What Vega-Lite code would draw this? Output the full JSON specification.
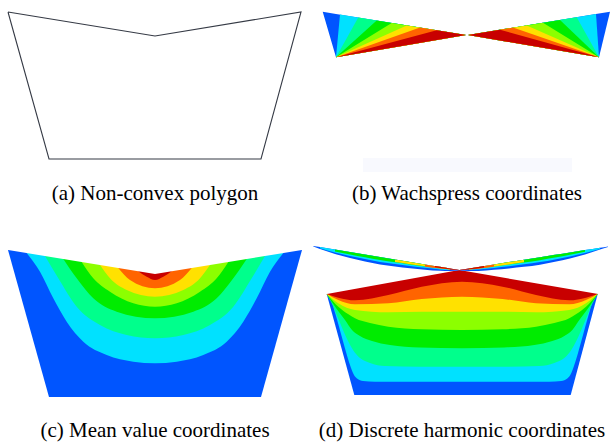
{
  "$schema": "https://vega.github.io/schema/vega-lite/v6.json",
  "width": 610,
  "height": 444,
  "autosize": {"type": "fit", "contains": "padding"},
  "padding": 0,
  "background": "white",
  "config": {"view": {"stroke": null}},
  "datasets": {
    "flat": [
      {"s": "bL0", "k": "blue", "x": 322.7, "y": 11.7, "y2": 11.7},
      {"s": "bL0", "k": "blue", "x": 336, "y": 57.3, "y2": 13.9},
      {"s": "bL0", "k": "blue", "x": 466, "y": 35, "y2": 35},
      {"s": "bL1", "k": "cyan", "x": 336, "y": 57.3, "y2": 57.3},
      {"s": "bL1", "k": "cyan", "x": 340, "y": 56.6, "y2": 14.5},
      {"s": "bL1", "k": "cyan", "x": 466, "y": 35, "y2": 35},
      {"s": "bL2", "k": "springgreen", "x": 336, "y": 57.3, "y2": 57.3},
      {"s": "bL2", "k": "springgreen", "x": 358.3, "y": 53.5, "y2": 17.5},
      {"s": "bL2", "k": "springgreen", "x": 466, "y": 35, "y2": 35},
      {"s": "bL3", "k": "green", "x": 336, "y": 57.3, "y2": 57.3},
      {"s": "bL3", "k": "green", "x": 376.7, "y": 50.3, "y2": 20.5},
      {"s": "bL3", "k": "green", "x": 466, "y": 35, "y2": 35},
      {"s": "bL4", "k": "yellowgreen", "x": 336, "y": 57.3, "y2": 57.3},
      {"s": "bL4", "k": "yellowgreen", "x": 391.7, "y": 47.7, "y2": 22.9},
      {"s": "bL4", "k": "yellowgreen", "x": 466, "y": 35, "y2": 35},
      {"s": "bL5", "k": "yellow", "x": 336, "y": 57.3, "y2": 57.3},
      {"s": "bL5", "k": "yellow", "x": 406.7, "y": 45.2, "y2": 25.4},
      {"s": "bL5", "k": "yellow", "x": 466, "y": 35, "y2": 35},
      {"s": "bL6", "k": "orange", "x": 336, "y": 57.3, "y2": 57.3},
      {"s": "bL6", "k": "orange", "x": 420, "y": 42.9, "y2": 27.5},
      {"s": "bL6", "k": "orange", "x": 466, "y": 35, "y2": 35},
      {"s": "bL7", "k": "red", "x": 336, "y": 57.3, "y2": 57.3},
      {"s": "bL7", "k": "red", "x": 436.7, "y": 40.0, "y2": 30.2},
      {"s": "bL7", "k": "red", "x": 466, "y": 35, "y2": 35},
      {"s": "bR0", "k": "blue", "x": 468, "y": 35, "y2": 35},
      {"s": "bR0", "k": "blue", "x": 599, "y": 57.3, "y2": 13.5},
      {"s": "bR0", "k": "blue", "x": 610, "y": 11.7, "y2": 11.7},
      {"s": "bR1", "k": "cyan", "x": 468, "y": 35, "y2": 35},
      {"s": "bR1", "k": "cyan", "x": 596, "y": 56.8, "y2": 14.0},
      {"s": "bR1", "k": "cyan", "x": 599, "y": 57.3, "y2": 57.3},
      {"s": "bR2", "k": "springgreen", "x": 468, "y": 35, "y2": 35},
      {"s": "bR2", "k": "springgreen", "x": 576.7, "y": 53.5, "y2": 17.2},
      {"s": "bR2", "k": "springgreen", "x": 599, "y": 57.3, "y2": 57.3},
      {"s": "bR3", "k": "green", "x": 468, "y": 35, "y2": 35},
      {"s": "bR3", "k": "green", "x": 560, "y": 50.7, "y2": 19.9},
      {"s": "bR3", "k": "green", "x": 599, "y": 57.3, "y2": 57.3},
      {"s": "bR4", "k": "yellowgreen", "x": 468, "y": 35, "y2": 35},
      {"s": "bR4", "k": "yellowgreen", "x": 543, "y": 47.8, "y2": 22.7},
      {"s": "bR4", "k": "yellowgreen", "x": 599, "y": 57.3, "y2": 57.3},
      {"s": "bR5", "k": "yellow", "x": 468, "y": 35, "y2": 35},
      {"s": "bR5", "k": "yellow", "x": 526.7, "y": 45.0, "y2": 25.4},
      {"s": "bR5", "k": "yellow", "x": 599, "y": 57.3, "y2": 57.3},
      {"s": "bR6", "k": "orange", "x": 468, "y": 35, "y2": 35},
      {"s": "bR6", "k": "orange", "x": 513, "y": 42.7, "y2": 27.6},
      {"s": "bR6", "k": "orange", "x": 599, "y": 57.3, "y2": 57.3},
      {"s": "bR7", "k": "red", "x": 468, "y": 35, "y2": 35},
      {"s": "bR7", "k": "red", "x": 500, "y": 40.5, "y2": 29.8},
      {"s": "bR7", "k": "red", "x": 599, "y": 57.3, "y2": 57.3},
      {"s": "bF", "k": "faint", "x": 363, "y": 158, "y2": 172},
      {"s": "bF", "k": "faint", "x": 572, "y": 158, "y2": 172},
      {"s": "c0", "k": "blue", "x": 8, "y": 250, "y2": 244},
      {"s": "c0", "k": "blue", "x": 49, "y": 397, "y2": 244},
      {"s": "c0", "k": "blue", "x": 261, "y": 397, "y2": 244},
      {"s": "c0", "k": "blue", "x": 302, "y": 250, "y2": 244},
      {"s": "d0", "k": "blue", "x": 326.7, "y": 294, "y2": 266},
      {"s": "d0", "k": "blue", "x": 354.3, "y": 395, "y2": 266},
      {"s": "d0", "k": "blue", "x": 570.7, "y": 395, "y2": 266},
      {"s": "d0", "k": "blue", "x": 597.7, "y": 294, "y2": 266}
    ],
    "curves": [
      {"s": "c1", "k": "cyan", "x": 26.7, "y": 253.1, "y2": 244},
      {"s": "c1", "k": "cyan", "x": 40, "y": 271.7, "y2": 244},
      {"s": "c1", "k": "cyan", "x": 53.3, "y": 298.3, "y2": 244},
      {"s": "c1", "k": "cyan", "x": 66.7, "y": 321.7, "y2": 244},
      {"s": "c1", "k": "cyan", "x": 83.3, "y": 341.7, "y2": 244},
      {"s": "c1", "k": "cyan", "x": 106.7, "y": 355, "y2": 244},
      {"s": "c1", "k": "cyan", "x": 133.3, "y": 361.7, "y2": 244},
      {"s": "c1", "k": "cyan", "x": 155, "y": 363.3, "y2": 244},
      {"s": "c1", "k": "cyan", "x": 176.7, "y": 361.7, "y2": 244},
      {"s": "c1", "k": "cyan", "x": 203.3, "y": 355, "y2": 244},
      {"s": "c1", "k": "cyan", "x": 226.7, "y": 341.7, "y2": 244},
      {"s": "c1", "k": "cyan", "x": 243.3, "y": 321.7, "y2": 244},
      {"s": "c1", "k": "cyan", "x": 256.7, "y": 298.3, "y2": 244},
      {"s": "c1", "k": "cyan", "x": 270, "y": 271.7, "y2": 244},
      {"s": "c1", "k": "cyan", "x": 283.3, "y": 253.1, "y2": 244},
      {"s": "c2", "k": "springgreen", "x": 45, "y": 256, "y2": 244},
      {"s": "c2", "k": "springgreen", "x": 58.3, "y": 278.3, "y2": 244},
      {"s": "c2", "k": "springgreen", "x": 76.7, "y": 306.7, "y2": 244},
      {"s": "c2", "k": "springgreen", "x": 100, "y": 325, "y2": 244},
      {"s": "c2", "k": "springgreen", "x": 126.7, "y": 335, "y2": 244},
      {"s": "c2", "k": "springgreen", "x": 155, "y": 338.3, "y2": 244},
      {"s": "c2", "k": "springgreen", "x": 183.3, "y": 335, "y2": 244},
      {"s": "c2", "k": "springgreen", "x": 210, "y": 325, "y2": 244},
      {"s": "c2", "k": "springgreen", "x": 233.3, "y": 306.7, "y2": 244},
      {"s": "c2", "k": "springgreen", "x": 251.7, "y": 278.3, "y2": 244},
      {"s": "c2", "k": "springgreen", "x": 265, "y": 256, "y2": 244},
      {"s": "c3", "k": "green", "x": 63.3, "y": 259, "y2": 244},
      {"s": "c3", "k": "green", "x": 76.7, "y": 278.3, "y2": 244},
      {"s": "c3", "k": "green", "x": 93.3, "y": 298.3, "y2": 244},
      {"s": "c3", "k": "green", "x": 116.7, "y": 311.7, "y2": 244},
      {"s": "c3", "k": "green", "x": 155, "y": 318.3, "y2": 244},
      {"s": "c3", "k": "green", "x": 193.3, "y": 311.7, "y2": 244},
      {"s": "c3", "k": "green", "x": 216.7, "y": 298.3, "y2": 244},
      {"s": "c3", "k": "green", "x": 233.3, "y": 278.3, "y2": 244},
      {"s": "c3", "k": "green", "x": 246.7, "y": 259, "y2": 244},
      {"s": "c4", "k": "yellowgreen", "x": 81.7, "y": 262, "y2": 244},
      {"s": "c4", "k": "yellowgreen", "x": 93.3, "y": 278.3, "y2": 244},
      {"s": "c4", "k": "yellowgreen", "x": 110, "y": 291.7, "y2": 244},
      {"s": "c4", "k": "yellowgreen", "x": 133.3, "y": 303.3, "y2": 244},
      {"s": "c4", "k": "yellowgreen", "x": 155, "y": 306.7, "y2": 244},
      {"s": "c4", "k": "yellowgreen", "x": 176.7, "y": 303.3, "y2": 244},
      {"s": "c4", "k": "yellowgreen", "x": 200, "y": 291.7, "y2": 244},
      {"s": "c4", "k": "yellowgreen", "x": 216.7, "y": 278.3, "y2": 244},
      {"s": "c4", "k": "yellowgreen", "x": 228.3, "y": 262, "y2": 244},
      {"s": "c5", "k": "yellow", "x": 100, "y": 265, "y2": 244},
      {"s": "c5", "k": "yellow", "x": 110, "y": 278.3, "y2": 244},
      {"s": "c5", "k": "yellow", "x": 126.7, "y": 290, "y2": 244},
      {"s": "c5", "k": "yellow", "x": 155, "y": 296.7, "y2": 244},
      {"s": "c5", "k": "yellow", "x": 183.3, "y": 290, "y2": 244},
      {"s": "c5", "k": "yellow", "x": 200, "y": 278.3, "y2": 244},
      {"s": "c5", "k": "yellow", "x": 210, "y": 265, "y2": 244},
      {"s": "c6", "k": "orange", "x": 118.3, "y": 268, "y2": 244},
      {"s": "c6", "k": "orange", "x": 130, "y": 280, "y2": 244},
      {"s": "c6", "k": "orange", "x": 155, "y": 288.3, "y2": 244},
      {"s": "c6", "k": "orange", "x": 180, "y": 280, "y2": 244},
      {"s": "c6", "k": "orange", "x": 191.7, "y": 268, "y2": 244},
      {"s": "c7", "k": "red", "x": 138.3, "y": 271.3, "y2": 244},
      {"s": "c7", "k": "red", "x": 146.7, "y": 276.7, "y2": 244},
      {"s": "c7", "k": "red", "x": 155, "y": 280, "y2": 244},
      {"s": "c7", "k": "red", "x": 163.3, "y": 276.7, "y2": 244},
      {"s": "c7", "k": "red", "x": 171.7, "y": 271.3, "y2": 244},
      {"s": "d1", "k": "cyan", "x": 326.7, "y": 294, "y2": 266},
      {"s": "d1", "k": "cyan", "x": 331, "y": 300, "y2": 266},
      {"s": "d1", "k": "cyan", "x": 336, "y": 316, "y2": 266},
      {"s": "d1", "k": "cyan", "x": 341, "y": 334, "y2": 266},
      {"s": "d1", "k": "cyan", "x": 346, "y": 352, "y2": 266},
      {"s": "d1", "k": "cyan", "x": 350, "y": 365, "y2": 266},
      {"s": "d1", "k": "cyan", "x": 353, "y": 373, "y2": 266},
      {"s": "d1", "k": "cyan", "x": 357, "y": 378.5, "y2": 266},
      {"s": "d1", "k": "cyan", "x": 363, "y": 381, "y2": 266},
      {"s": "d1", "k": "cyan", "x": 375, "y": 381.7, "y2": 266},
      {"s": "d1", "k": "cyan", "x": 549.3, "y": 381.7, "y2": 266},
      {"s": "d1", "k": "cyan", "x": 561.3, "y": 381, "y2": 266},
      {"s": "d1", "k": "cyan", "x": 567.3, "y": 378.5, "y2": 266},
      {"s": "d1", "k": "cyan", "x": 571.3, "y": 373, "y2": 266},
      {"s": "d1", "k": "cyan", "x": 574.3, "y": 365, "y2": 266},
      {"s": "d1", "k": "cyan", "x": 578.3, "y": 352, "y2": 266},
      {"s": "d1", "k": "cyan", "x": 583.3, "y": 334, "y2": 266},
      {"s": "d1", "k": "cyan", "x": 588.3, "y": 316, "y2": 266},
      {"s": "d1", "k": "cyan", "x": 593.3, "y": 300, "y2": 266},
      {"s": "d1", "k": "cyan", "x": 597.6, "y": 294, "y2": 266},
      {"s": "d2", "k": "springgreen", "x": 326.7, "y": 294, "y2": 266},
      {"s": "d2", "k": "springgreen", "x": 333, "y": 306, "y2": 266},
      {"s": "d2", "k": "springgreen", "x": 338, "y": 318, "y2": 266},
      {"s": "d2", "k": "springgreen", "x": 343, "y": 330, "y2": 266},
      {"s": "d2", "k": "springgreen", "x": 348, "y": 341, "y2": 266},
      {"s": "d2", "k": "springgreen", "x": 353, "y": 350, "y2": 266},
      {"s": "d2", "k": "springgreen", "x": 360, "y": 358, "y2": 266},
      {"s": "d2", "k": "springgreen", "x": 370, "y": 363, "y2": 266},
      {"s": "d2", "k": "springgreen", "x": 385, "y": 366, "y2": 266},
      {"s": "d2", "k": "springgreen", "x": 420, "y": 366.7, "y2": 266},
      {"s": "d2", "k": "springgreen", "x": 504.3, "y": 366.7, "y2": 266},
      {"s": "d2", "k": "springgreen", "x": 539.3, "y": 366, "y2": 266},
      {"s": "d2", "k": "springgreen", "x": 554.3, "y": 363, "y2": 266},
      {"s": "d2", "k": "springgreen", "x": 564.3, "y": 358, "y2": 266},
      {"s": "d2", "k": "springgreen", "x": 571.3, "y": 350, "y2": 266},
      {"s": "d2", "k": "springgreen", "x": 576.3, "y": 341, "y2": 266},
      {"s": "d2", "k": "springgreen", "x": 581.3, "y": 330, "y2": 266},
      {"s": "d2", "k": "springgreen", "x": 586.3, "y": 318, "y2": 266},
      {"s": "d2", "k": "springgreen", "x": 591.3, "y": 306, "y2": 266},
      {"s": "d2", "k": "springgreen", "x": 597.6, "y": 294, "y2": 266},
      {"s": "d3", "k": "green", "x": 326.7, "y": 294, "y2": 266},
      {"s": "d3", "k": "green", "x": 336.7, "y": 309, "y2": 266},
      {"s": "d3", "k": "green", "x": 345, "y": 320, "y2": 266},
      {"s": "d3", "k": "green", "x": 352, "y": 330, "y2": 266},
      {"s": "d3", "k": "green", "x": 360, "y": 336, "y2": 266},
      {"s": "d3", "k": "green", "x": 372, "y": 341, "y2": 266},
      {"s": "d3", "k": "green", "x": 390, "y": 345, "y2": 266},
      {"s": "d3", "k": "green", "x": 420, "y": 347.5, "y2": 266},
      {"s": "d3", "k": "green", "x": 462, "y": 348.3, "y2": 266},
      {"s": "d3", "k": "green", "x": 504.3, "y": 347.5, "y2": 266},
      {"s": "d3", "k": "green", "x": 534.3, "y": 345, "y2": 266},
      {"s": "d3", "k": "green", "x": 552.3, "y": 341, "y2": 266},
      {"s": "d3", "k": "green", "x": 564.3, "y": 336, "y2": 266},
      {"s": "d3", "k": "green", "x": 572.3, "y": 330, "y2": 266},
      {"s": "d3", "k": "green", "x": 579.3, "y": 320, "y2": 266},
      {"s": "d3", "k": "green", "x": 587.6, "y": 309, "y2": 266},
      {"s": "d3", "k": "green", "x": 597.6, "y": 294, "y2": 266},
      {"s": "d4", "k": "yellowgreen", "x": 326.7, "y": 294, "y2": 266},
      {"s": "d4", "k": "yellowgreen", "x": 338.3, "y": 306.7, "y2": 266},
      {"s": "d4", "k": "yellowgreen", "x": 348, "y": 314, "y2": 266},
      {"s": "d4", "k": "yellowgreen", "x": 355, "y": 318.3, "y2": 266},
      {"s": "d4", "k": "yellowgreen", "x": 370, "y": 323, "y2": 266},
      {"s": "d4", "k": "yellowgreen", "x": 388.3, "y": 326.7, "y2": 266},
      {"s": "d4", "k": "yellowgreen", "x": 421.7, "y": 329.3, "y2": 266},
      {"s": "d4", "k": "yellowgreen", "x": 462, "y": 330, "y2": 266},
      {"s": "d4", "k": "yellowgreen", "x": 502.6, "y": 329.3, "y2": 266},
      {"s": "d4", "k": "yellowgreen", "x": 536, "y": 326.7, "y2": 266},
      {"s": "d4", "k": "yellowgreen", "x": 554.3, "y": 323, "y2": 266},
      {"s": "d4", "k": "yellowgreen", "x": 569.3, "y": 318.3, "y2": 266},
      {"s": "d4", "k": "yellowgreen", "x": 576.3, "y": 314, "y2": 266},
      {"s": "d4", "k": "yellowgreen", "x": 586, "y": 306.7, "y2": 266},
      {"s": "d4", "k": "yellowgreen", "x": 597.6, "y": 294, "y2": 266},
      {"s": "d5", "k": "yellow", "x": 326.7, "y": 294, "y2": 266},
      {"s": "d5", "k": "yellow", "x": 338.3, "y": 303.3, "y2": 266},
      {"s": "d5", "k": "yellow", "x": 355, "y": 310, "y2": 266},
      {"s": "d5", "k": "yellow", "x": 388.3, "y": 312.3, "y2": 266},
      {"s": "d5", "k": "yellow", "x": 421.7, "y": 311.7, "y2": 266},
      {"s": "d5", "k": "yellow", "x": 462, "y": 311.7, "y2": 266},
      {"s": "d5", "k": "yellow", "x": 502.6, "y": 311.7, "y2": 266},
      {"s": "d5", "k": "yellow", "x": 536, "y": 312.3, "y2": 266},
      {"s": "d5", "k": "yellow", "x": 569.3, "y": 310, "y2": 266},
      {"s": "d5", "k": "yellow", "x": 586, "y": 303.3, "y2": 266},
      {"s": "d5", "k": "yellow", "x": 597.6, "y": 294, "y2": 266},
      {"s": "d6", "k": "orange", "x": 326.7, "y": 294, "y2": 266},
      {"s": "d6", "k": "orange", "x": 338.3, "y": 300, "y2": 266},
      {"s": "d6", "k": "orange", "x": 355, "y": 304.3, "y2": 266},
      {"s": "d6", "k": "orange", "x": 388.3, "y": 303.3, "y2": 266},
      {"s": "d6", "k": "orange", "x": 421.7, "y": 299, "y2": 266},
      {"s": "d6", "k": "orange", "x": 462, "y": 296.7, "y2": 266},
      {"s": "d6", "k": "orange", "x": 502.6, "y": 299, "y2": 266},
      {"s": "d6", "k": "orange", "x": 536, "y": 303.3, "y2": 266},
      {"s": "d6", "k": "orange", "x": 569.3, "y": 304.3, "y2": 266},
      {"s": "d6", "k": "orange", "x": 586, "y": 300, "y2": 266},
      {"s": "d6", "k": "orange", "x": 597.6, "y": 294, "y2": 266},
      {"s": "d7", "k": "red", "x": 326.7, "y": 294, "y2": 266},
      {"s": "d7", "k": "red", "x": 338.3, "y": 297.7, "y2": 266},
      {"s": "d7", "k": "red", "x": 355, "y": 300.3, "y2": 266},
      {"s": "d7", "k": "red", "x": 388.3, "y": 295, "y2": 266},
      {"s": "d7", "k": "red", "x": 421.7, "y": 286.7, "y2": 266},
      {"s": "d7", "k": "red", "x": 462, "y": 281.7, "y2": 266},
      {"s": "d7", "k": "red", "x": 502.6, "y": 286.7, "y2": 266},
      {"s": "d7", "k": "red", "x": 536, "y": 295, "y2": 266},
      {"s": "d7", "k": "red", "x": 569.3, "y": 300.3, "y2": 266},
      {"s": "d7", "k": "red", "x": 586, "y": 297.7, "y2": 266},
      {"s": "d7", "k": "red", "x": 597.6, "y": 294, "y2": 266}
    ],
    "mask": [
      {"s": "mc", "k": "white", "x": 2, "y": 249, "y2": 238},
      {"s": "mc", "k": "white", "x": 155, "y": 274, "y2": 238},
      {"s": "mc", "k": "white", "x": 308, "y": 249, "y2": 238},
      {"s": "md", "k": "white", "x": 320, "y": 295.2, "y2": 260},
      {"s": "md", "k": "white", "x": 459.3, "y": 270, "y2": 260},
      {"s": "md", "k": "white", "x": 604, "y": 295.1, "y2": 260}
    ],
    "lens": [
      {"s": "L0", "k": "blue", "x": 313.3, "y": 246.6, "y2": 246.0},
      {"s": "L0", "k": "blue", "x": 320, "y": 249.0, "y2": 247.1},
      {"s": "L0", "k": "blue", "x": 335, "y": 254.0, "y2": 249.6},
      {"s": "L0", "k": "blue", "x": 350, "y": 258.0, "y2": 252.0},
      {"s": "L0", "k": "blue", "x": 365, "y": 261.5, "y2": 254.5},
      {"s": "L0", "k": "blue", "x": 380, "y": 264.5, "y2": 257.0},
      {"s": "L0", "k": "blue", "x": 395, "y": 266.5, "y2": 259.4},
      {"s": "L0", "k": "blue", "x": 410, "y": 268.2, "y2": 261.9},
      {"s": "L0", "k": "blue", "x": 425, "y": 269.7, "y2": 264.4},
      {"s": "L0", "k": "blue", "x": 440, "y": 270.8, "y2": 266.8},
      {"s": "L0", "k": "blue", "x": 450, "y": 271.0, "y2": 268.5},
      {"s": "L0", "k": "blue", "x": 459.3, "y": 270.5, "y2": 270.0},
      {"s": "L1", "k": "cyan", "x": 320, "y": 248.3, "y2": 247.1},
      {"s": "L1", "k": "cyan", "x": 335, "y": 252.5, "y2": 249.6},
      {"s": "L1", "k": "cyan", "x": 350, "y": 256.0, "y2": 252.0},
      {"s": "L1", "k": "cyan", "x": 365, "y": 259.1, "y2": 254.5},
      {"s": "L1", "k": "cyan", "x": 380, "y": 261.9, "y2": 257.0},
      {"s": "L1", "k": "cyan", "x": 395, "y": 264.0, "y2": 259.4},
      {"s": "L1", "k": "cyan", "x": 410, "y": 266.0, "y2": 261.9},
      {"s": "L1", "k": "cyan", "x": 425, "y": 267.8, "y2": 264.4},
      {"s": "L1", "k": "cyan", "x": 440, "y": 269.4, "y2": 266.8},
      {"s": "L1", "k": "cyan", "x": 450, "y": 270.1, "y2": 268.5},
      {"s": "L2", "k": "green", "x": 335, "y": 251.4, "y2": 249.6},
      {"s": "L2", "k": "green", "x": 350, "y": 254.4, "y2": 252.0},
      {"s": "L2", "k": "green", "x": 365, "y": 257.3, "y2": 254.5},
      {"s": "L2", "k": "green", "x": 380, "y": 260.0, "y2": 257.0},
      {"s": "L2", "k": "green", "x": 395, "y": 262.3, "y2": 259.4},
      {"s": "L2", "k": "green", "x": 410, "y": 264.4, "y2": 261.9},
      {"s": "L2", "k": "green", "x": 425, "y": 266.5, "y2": 264.4},
      {"s": "L3", "k": "yellow", "x": 395, "y": 262.0, "y2": 259.4},
      {"s": "L3", "k": "yellow", "x": 410, "y": 264.2, "y2": 261.9},
      {"s": "L3", "k": "yellow", "x": 425, "y": 266.3, "y2": 264.4},
      {"s": "L3", "k": "yellow", "x": 440, "y": 268.3, "y2": 266.8},
      {"s": "L3", "k": "yellow", "x": 450, "y": 269.4, "y2": 268.5},
      {"s": "L4", "k": "orange", "x": 425, "y": 266.7, "y2": 264.4},
      {"s": "L4", "k": "orange", "x": 440, "y": 268.6, "y2": 266.8},
      {"s": "L4", "k": "orange", "x": 450, "y": 269.6, "y2": 268.5},
      {"s": "L4", "k": "orange", "x": 459.3, "y": 270.2, "y2": 270.0},
      {"s": "L5", "k": "red", "x": 435, "y": 267.3, "y2": 266.0},
      {"s": "L5", "k": "red", "x": 450, "y": 269.2, "y2": 268.5},
      {"s": "L5", "k": "red", "x": 459.3, "y": 270.15, "y2": 270.0},
      {"s": "R0", "k": "blue", "x": 608, "y": 247.0, "y2": 246.4},
      {"s": "R0", "k": "blue", "x": 600, "y": 249.6, "y2": 247.7},
      {"s": "R0", "k": "blue", "x": 585, "y": 254.4, "y2": 250.0},
      {"s": "R0", "k": "blue", "x": 570, "y": 258.4, "y2": 252.4},
      {"s": "R0", "k": "blue", "x": 555, "y": 261.8, "y2": 254.8},
      {"s": "R0", "k": "blue", "x": 540, "y": 264.7, "y2": 257.2},
      {"s": "R0", "k": "blue", "x": 524, "y": 266.8, "y2": 259.7},
      {"s": "R0", "k": "blue", "x": 509, "y": 268.4, "y2": 262.1},
      {"s": "R0", "k": "blue", "x": 494, "y": 269.8, "y2": 264.5},
      {"s": "R0", "k": "blue", "x": 478.6, "y": 270.9, "y2": 266.9},
      {"s": "R0", "k": "blue", "x": 469, "y": 271.0, "y2": 268.5},
      {"s": "R0", "k": "blue", "x": 459.3, "y": 270.5, "y2": 270.0},
      {"s": "R1", "k": "cyan", "x": 600, "y": 248.9, "y2": 247.7},
      {"s": "R1", "k": "cyan", "x": 585, "y": 252.9, "y2": 250.0},
      {"s": "R1", "k": "cyan", "x": 570, "y": 256.4, "y2": 252.4},
      {"s": "R1", "k": "cyan", "x": 555, "y": 259.4, "y2": 254.8},
      {"s": "R1", "k": "cyan", "x": 540, "y": 262.1, "y2": 257.2},
      {"s": "R1", "k": "cyan", "x": 524, "y": 264.3, "y2": 259.7},
      {"s": "R1", "k": "cyan", "x": 509, "y": 266.2, "y2": 262.1},
      {"s": "R1", "k": "cyan", "x": 494, "y": 267.9, "y2": 264.5},
      {"s": "R1", "k": "cyan", "x": 478.6, "y": 269.5, "y2": 266.9},
      {"s": "R1", "k": "cyan", "x": 469, "y": 270.1, "y2": 268.5},
      {"s": "R2", "k": "green", "x": 585, "y": 251.8, "y2": 250.0},
      {"s": "R2", "k": "green", "x": 570, "y": 254.8, "y2": 252.4},
      {"s": "R2", "k": "green", "x": 555, "y": 257.6, "y2": 254.8},
      {"s": "R2", "k": "green", "x": 540, "y": 260.2, "y2": 257.2},
      {"s": "R2", "k": "green", "x": 524, "y": 262.6, "y2": 259.7},
      {"s": "R2", "k": "green", "x": 509, "y": 264.6, "y2": 262.1},
      {"s": "R2", "k": "green", "x": 494, "y": 266.6, "y2": 264.5},
      {"s": "R3", "k": "yellow", "x": 524, "y": 262.3, "y2": 259.7},
      {"s": "R3", "k": "yellow", "x": 509, "y": 264.4, "y2": 262.1},
      {"s": "R3", "k": "yellow", "x": 494, "y": 266.4, "y2": 264.5},
      {"s": "R3", "k": "yellow", "x": 478.6, "y": 268.4, "y2": 266.9},
      {"s": "R3", "k": "yellow", "x": 469, "y": 269.4, "y2": 268.5},
      {"s": "R4", "k": "orange", "x": 494, "y": 266.8, "y2": 264.5},
      {"s": "R4", "k": "orange", "x": 478.6, "y": 268.7, "y2": 266.9},
      {"s": "R4", "k": "orange", "x": 469, "y": 269.6, "y2": 268.5},
      {"s": "R4", "k": "orange", "x": 459.3, "y": 270.2, "y2": 270.0},
      {"s": "R5", "k": "red", "x": 484, "y": 267.4, "y2": 266.1},
      {"s": "R5", "k": "red", "x": 469, "y": 269.2, "y2": 268.5},
      {"s": "R5", "k": "red", "x": 459.3, "y": 270.15, "y2": 270.0}
    ],
    "outline": [
      {"o": 0, "x": 8, "y": 12},
      {"o": 1, "x": 155, "y": 36},
      {"o": 2, "x": 301, "y": 12},
      {"o": 3, "x": 261, "y": 159},
      {"o": 4, "x": 49, "y": 159},
      {"o": 5, "x": 8, "y": 12}
    ],
    "captions": [
      {"t": "(a) Non-convex polygon", "x": 155, "y": 199.5},
      {"t": "(b) Wachspress coordinates", "x": 467, "y": 199.5},
      {"t": "(c) Mean value coordinates", "x": 155, "y": 436.5},
      {"t": "(d) Discrete harmonic coordinates", "x": 462, "y": 436.5}
    ]
  },
  "layer": [
    {
      "data": {"name": "flat"},
      "mark": {"type": "area", "interpolate": "linear", "opacity": 1},
      "encoding": {
        "x": {"field": "x", "type": "quantitative", "scale": {"domain": [0, 610], "nice": false, "zero": false}, "axis": null},
        "y": {"field": "y", "type": "quantitative", "stack": null, "scale": {"domain": [0, 444], "reverse": true, "nice": false, "zero": false}, "axis": null},
        "y2": {"field": "y2"},
        "detail": {"field": "s"},
        "color": {"field": "k", "type": "nominal", "legend": null, "scale": {"domain": ["blue", "cyan", "springgreen", "green", "yellowgreen", "yellow", "orange", "red", "white", "faint"], "range": ["#0055ff", "#00e1ff", "#00ff8c", "#00ec00", "#8cff00", "#ffe100", "#ff6400", "#c80000", "#ffffff", "#f8f9fe"]}}
      }
    },
    {
      "data": {"name": "curves"},
      "mark": {"type": "area", "interpolate": "monotone", "opacity": 1},
      "encoding": {
        "x": {"field": "x", "type": "quantitative", "axis": null},
        "y": {"field": "y", "type": "quantitative", "stack": null, "axis": null},
        "y2": {"field": "y2"},
        "detail": {"field": "s"},
        "color": {"field": "k", "type": "nominal", "legend": null}
      }
    },
    {
      "data": {"name": "mask"},
      "mark": {"type": "area", "interpolate": "linear", "opacity": 1},
      "encoding": {
        "x": {"field": "x", "type": "quantitative", "axis": null},
        "y": {"field": "y", "type": "quantitative", "stack": null, "axis": null},
        "y2": {"field": "y2"},
        "detail": {"field": "s"},
        "color": {"field": "k", "type": "nominal", "legend": null}
      }
    },
    {
      "data": {"name": "lens"},
      "mark": {"type": "area", "interpolate": "monotone", "opacity": 1},
      "encoding": {
        "x": {"field": "x", "type": "quantitative", "axis": null},
        "y": {"field": "y", "type": "quantitative", "stack": null, "axis": null},
        "y2": {"field": "y2"},
        "detail": {"field": "s"},
        "color": {"field": "k", "type": "nominal", "legend": null}
      }
    },
    {
      "data": {"name": "outline"},
      "mark": {"type": "line", "color": "#353a45", "strokeWidth": 1.1},
      "encoding": {
        "x": {"field": "x", "type": "quantitative", "axis": null},
        "y": {"field": "y", "type": "quantitative", "axis": null},
        "order": {"field": "o"}
      }
    },
    {
      "data": {"name": "captions"},
      "mark": {"type": "text", "font": "Liberation Serif", "fontSize": 21, "align": "center", "baseline": "alphabetic", "color": "#000000"},
      "encoding": {
        "x": {"field": "x", "type": "quantitative", "axis": null},
        "y": {"field": "y", "type": "quantitative", "axis": null},
        "text": {"field": "t"}
      }
    }
  ]
}
